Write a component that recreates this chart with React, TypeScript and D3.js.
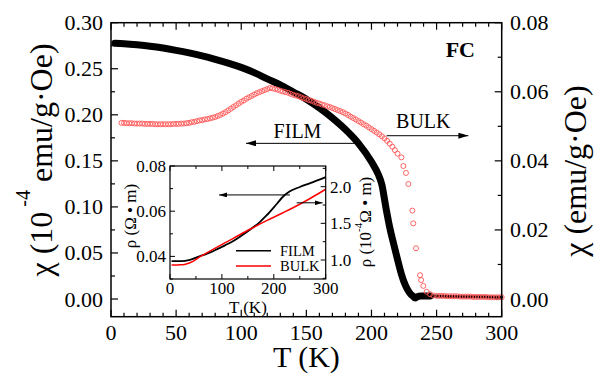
import React from "react";
import * as d3 from "d3";

// ---------- data ----------
// FILM (main, left axis): chi in 10^-4 emu/g·Oe
const filmT = [3, 10, 20, 30, 40, 50, 60, 70, 80, 90, 100, 110, 120, 130, 140, 150, 160, 170, 180, 190, 200, 205, 208, 211, 214, 217, 220, 223, 226, 228, 230, 232, 233.5, 235, 238, 245];
const filmChi = [0.2778, 0.2772, 0.276, 0.2745, 0.2725, 0.27, 0.2672, 0.264, 0.2603, 0.2562, 0.2515, 0.2458, 0.239, 0.2325, 0.2248, 0.217, 0.2075, 0.1965, 0.184, 0.169, 0.149, 0.136, 0.124, 0.1, 0.078, 0.06, 0.043, 0.027, 0.015, 0.0095, 0.0055, 0.003, 0.001, 0.0025, 0.0032, 0.0032];
const filmTailT = [245, 260, 280, 300];
const filmTailChi = [0.0032, 0.0028, 0.0024, 0.002];

// BULK (main, right axis): chi in emu/g·Oe
const bulkT = [8, 10, 12, 14, 16, 18, 20, 22, 24, 26, 28, 30, 32, 34, 36, 38, 40, 42, 44, 46, 48, 50, 52, 54, 56, 58, 60, 62, 64, 66, 68, 70, 72, 74, 76, 78, 80, 82, 84, 86, 88, 90, 92, 94, 96, 98, 100, 102, 104, 106, 108, 110, 112, 114, 116, 118, 120, 122, 124, 126, 128, 130, 132, 134, 136, 138, 140, 142, 144, 146, 148, 150, 152, 154, 156, 158, 160, 162, 164, 166, 168, 170, 172, 174, 176, 178, 180, 182, 184, 186, 188, 190, 192, 194, 196, 198, 200, 202, 204, 206, 208, 210, 212, 214, 216, 218, 220, 223, 224.5, 226.5, 228.3, 231.4, 232.1, 234.2, 237.3, 238.1, 239.8, 242.4, 245, 247.5, 250, 252, 254, 256, 258, 260, 262, 264, 266, 268, 270, 272, 274, 276, 278, 280, 282, 284, 286, 288, 290, 292, 294, 296, 298, 300];
const bulkChi = [0.051, 0.051, 0.0509, 0.0509, 0.0509, 0.0508, 0.0508, 0.0508, 0.0508, 0.0507, 0.0507, 0.0507, 0.0507, 0.0506, 0.0506, 0.0506, 0.0506, 0.0506, 0.0506, 0.0506, 0.0507, 0.0507, 0.0507, 0.0508, 0.0508, 0.0509, 0.051, 0.0512, 0.0513, 0.0515, 0.0517, 0.0518, 0.052, 0.0521, 0.0523, 0.0525, 0.0527, 0.053, 0.0533, 0.0537, 0.0541, 0.0546, 0.0551, 0.0556, 0.0561, 0.0566, 0.0571, 0.0575, 0.058, 0.0584, 0.0588, 0.0592, 0.0596, 0.0599, 0.0602, 0.0605, 0.0608, 0.0611, 0.061, 0.0608, 0.0606, 0.0603, 0.0601, 0.0599, 0.0597, 0.0594, 0.0591, 0.0589, 0.0587, 0.0584, 0.0581, 0.0579, 0.0576, 0.0574, 0.0571, 0.0568, 0.0566, 0.0563, 0.0561, 0.0558, 0.0556, 0.0553, 0.055, 0.0547, 0.0544, 0.0541, 0.0537, 0.0533, 0.0528, 0.0524, 0.052, 0.0515, 0.0511, 0.0506, 0.0502, 0.0497, 0.0492, 0.0487, 0.0482, 0.0477, 0.0471, 0.0465, 0.0458, 0.045, 0.0441, 0.0431, 0.0421, 0.041, 0.0385, 0.0365, 0.0333, 0.0256, 0.0219, 0.0147, 0.0069, 0.0055, 0.0038, 0.0021, 0.0014, 0.001, 0.0009, 0.0009, 0.0009, 0.0009, 0.0008, 0.0008, 0.0008, 0.0008, 0.0008, 0.0007, 0.0007, 0.0007, 0.0007, 0.0007, 0.0006, 0.0006, 0.0006, 0.0006, 0.0006, 0.0006, 0.0005, 0.0005, 0.0005, 0.0005, 0.0005, 0.0005];

// Inset: resistivity
const insetFilmT = [3, 10, 22, 38.5, 58, 75, 90, 106, 122, 138, 154, 173, 186, 206, 218, 231, 250, 270, 300];
const insetFilmRho = [0.0379, 0.0379, 0.0379, 0.0385, 0.0401, 0.0415, 0.0431, 0.0449, 0.0468, 0.0492, 0.0518, 0.0552, 0.0581, 0.0633, 0.0665, 0.0688, 0.0707, 0.0724, 0.0751];
const insetBulkT = [3, 10, 17, 28, 38.5, 58, 90, 122, 154, 186, 218, 250, 300];
const insetBulkRho = [0.932, 0.932, 0.934, 0.94, 0.962, 1.045, 1.173, 1.296, 1.419, 1.536, 1.645, 1.76, 1.965];

// tick labels
const xTicks = [0, 50, 100, 150, 200, 250, 300];
const yLTicks = [0, 0.05, 0.1, 0.15, 0.2, 0.25, 0.3];
const yRTicks = [0, 0.02, 0.04, 0.06, 0.08];
const ixTicks = [0, 100, 200, 300];
const iyLTicks = [0.04, 0.06, 0.08];
const iyRTicks = [1.0, 1.5, 2.0];

const FONT = "Liberation Serif, Times New Roman, Times, DejaVu Serif, serif";

export default function App() {
  // main scales
  const x = d3.scaleLinear().domain([0, 300]).range([111, 501.7]);
  const yL = d3.scaleLinear().domain([-0.0192, 0.3]).range([316.7, 22.7]);
  const yR = d3.scaleLinear().domain([-0.00512, 0.08]).range([316.7, 22.7]);
  // inset scales
  const ix = d3.scaleLinear().domain([0, 300]).range([170, 325.7]);
  const iyL = d3.scaleLinear().domain([0.03, 0.08]).range([279, 166]);
  const iyR = d3.scaleLinear().domain([0.741, 2.282]).range([279, 166]);

  const [x0, x1] = x.range();
  const [yb, yt] = yL.range();
  const [ix0, ix1] = ix.range();
  const [iyb, iyt] = iyL.range();

  const filmPts = filmT.map((t, i) => [t, filmChi[i]] as [number, number]);
  const filmTail = filmTailT.map((t, i) => [t, filmTailChi[i]] as [number, number]);
  const lineL = d3.line<[number, number]>().x(d => x(d[0])).y(d => yL(d[1])).curve(d3.curveMonotoneX);

  const iFilm = insetFilmT.map((t, i) => [t, insetFilmRho[i]] as [number, number]);
  const iBulk = insetBulkT.map((t, i) => [t, insetBulkRho[i]] as [number, number]);
  const iLineL = d3.line<[number, number]>().x(d => ix(d[0])).y(d => iyL(d[1])).curve(d3.curveMonotoneX);
  const iLineR = d3.line<[number, number]>().x(d => ix(d[0])).y(d => iyR(d[1])).curve(d3.curveMonotoneX);

  const xMinor = d3.range(0, 301, 10);
  const yLMinor = d3.range(0, 0.301, 0.025);
  const yRMinor = d3.range(0, 0.0801, 0.01);
  const ixMinor = d3.range(0, 301, 50);
  const iyLMinor = d3.range(0.03, 0.0801, 0.01);
  const iyRMinor = d3.range(0.75, 2.26, 0.25);

  const tk = { stroke: "#000", strokeWidth: 1.2 };
  const itk = { stroke: "#000", strokeWidth: 1 };

  return (
    <svg width={597} height={375} style={{ position: "absolute", left: 0, top: 0, background: "#fff", fontFamily: FONT }}>
      <defs>
        <marker id="ah" viewBox="0 0 10 6" refX="10" refY="3" markerWidth="10" markerHeight="6" markerUnits="userSpaceOnUse" orient="auto">
          <path d="M0,0 L10,3 L0,6 Z" fill="#000" />
        </marker>
        <marker id="ahs" viewBox="0 0 8 5" refX="8" refY="2.5" markerWidth="8" markerHeight="5" markerUnits="userSpaceOnUse" orient="auto">
          <path d="M0,0 L8,2.5 L0,5 Z" fill="#000" />
        </marker>
      </defs>
      <rect x={0} y={0} width={597} height={375} fill="#fff" />

      <g style={{ fontFamily: FONT }}>
        {/* main ticks */}
        {xMinor.map(t => {
          const major = t % 50 === 0;
          const l = major ? 7 : 4;
          return (
            <g key={"xt" + t}>
              <line x1={x(t)} x2={x(t)} y1={yb} y2={yb - l} {...tk} />
              <line x1={x(t)} x2={x(t)} y1={yt} y2={yt + l} {...tk} />
            </g>
          );
        })}
        {yLMinor.map((v, i) => (
          <line key={"yl" + i} x1={x0} x2={x0 + (i % 2 === 0 ? 7 : 4)} y1={yL(v)} y2={yL(v)} {...tk} />
        ))}
        {yRMinor.map((v, i) => (
          <line key={"yr" + i} x1={x1} x2={x1 - (i % 2 === 0 ? 7 : 4)} y1={yR(v)} y2={yR(v)} {...tk} />
        ))}

        {/* main tick labels */}
        {xTicks.map(t => (
          <text key={"xl" + t} x={x(t)} y={340} fontSize={22} textAnchor="middle">{t}</text>
        ))}
        {yLTicks.map(v => (
          <text key={"yll" + v} x={103} y={yL(v) + 7.5} fontSize={22} textAnchor="end">{v.toFixed(2)}</text>
        ))}
        {yRTicks.map(v => (
          <text key={"yrl" + v} x={510} y={yR(v) + 7.5} fontSize={22} textAnchor="start">{v.toFixed(2)}</text>
        ))}

        {/* axis titles */}
        <text x={(x0 + x1) / 2} y={367} fontSize={30} textAnchor="middle">T (K)</text>
        <text transform="translate(52,160) rotate(-90)" fontSize={32} textAnchor="middle">
          χ (10<tspan fontSize={20} dy={-22}> -4</tspan><tspan dy={22}> emu/g·Oe)</tspan>
        </text>
        <text transform="translate(586,171) rotate(-90)" fontSize={32} textAnchor="middle">χ (emu/g·Oe)</text>

        {/* main data */}
        <path d={lineL(filmPts) || ""} fill="none" stroke="#000" strokeWidth={7} strokeLinecap="round" strokeLinejoin="round" />
        <path d={lineL(filmTail) || ""} fill="none" stroke="#000" strokeWidth={3} strokeLinecap="round" />
        {bulkT.map((t, i) => (
          <circle key={"b" + i} cx={x(t)} cy={yR(bulkChi[i])} r={2.5} fill="none" stroke="#ff5555" strokeWidth={0.9} />
        ))}

        {/* main annotations */}
        <text x={x(279.5)} y={yL(0.263)} fontSize={22} fontWeight="bold" textAnchor="end">FC</text>
        <text x={x(143.2)} y={yL(0.1745)} fontSize={20} textAnchor="middle">FILM</text>
        <line x1={x(187.4)} x2={x(103.7)} y1={yL(0.169)} y2={yL(0.169)} stroke="#000" strokeWidth={1} markerEnd="url(#ah)" />
        <text x={x(239.8)} y={yL(0.1853)} fontSize={20} textAnchor="middle">BULK</text>
        <line x1={x(211.7)} x2={x(274.4)} y1={yL(0.1773)} y2={yL(0.1773)} stroke="#000" strokeWidth={1} markerEnd="url(#ah)" />

        {/* frame */}
        <rect x={x0} y={yt} width={x1 - x0} height={yb - yt} fill="none" stroke="#000" strokeWidth={1.5} />

        {/* inset */}
        {ixMinor.map(t => {
          const l = t % 100 === 0 ? 5 : 3;
          return (
            <g key={"ixt" + t}>
              <line x1={ix(t)} x2={ix(t)} y1={iyb} y2={iyb - l} {...itk} />
              <line x1={ix(t)} x2={ix(t)} y1={iyt} y2={iyt + l} {...itk} />
            </g>
          );
        })}
        {iyLMinor.map((v, i) => (
          <line key={"iyl" + i} x1={ix0} x2={ix0 + (i % 2 === 1 ? 5 : 3)} y1={iyL(v)} y2={iyL(v)} {...itk} />
        ))}
        {iyRMinor.map((v, i) => (
          <line key={"iyr" + i} x1={ix1} x2={ix1 - (i % 2 === 1 ? 5 : 3)} y1={iyR(v)} y2={iyR(v)} {...itk} />
        ))}
        {ixTicks.map(t => (
          <text key={"ixl" + t} x={ix(t)} y={294} fontSize={17} textAnchor="middle">{t}</text>
        ))}
        {iyLTicks.map(v => (
          <text key={"iyll" + v} x={166} y={iyL(v) + 6} fontSize={17} textAnchor="end">{v.toFixed(2)}</text>
        ))}
        {iyRTicks.map(v => (
          <text key={"iyrl" + v} x={330} y={iyR(v) + 6} fontSize={17} textAnchor="start">{v.toFixed(1)}</text>
        ))}
        <text x={(ix0 + ix1) / 2} y={313} fontSize={17} textAnchor="middle">T (K)</text>
        <text transform="translate(136,216) rotate(-90)" fontSize={17} textAnchor="middle">ρ (Ω • m)</text>
        <text transform="translate(371,222) rotate(-90)" fontSize={17} textAnchor="middle">
          ρ (10<tspan fontSize={11} dy={-9}>-4</tspan><tspan dy={9}>Ω • m)</tspan>
        </text>

        <path d={iLineL(iFilm) || ""} fill="none" stroke="#000" strokeWidth={1.8} />
        <path d={iLineR(iBulk) || ""} fill="none" stroke="#ff0000" strokeWidth={1.5} />

        <line x1={ix(231.2)} x2={ix(94.5)} y1={iyL(0.0672)} y2={iyL(0.0672)} stroke="#000" strokeWidth={1} markerEnd="url(#ahs)" />
        <line x1={ix(244)} x2={ix(294)} y1={iyR(1.78)} y2={iyR(1.78)} stroke="#000" strokeWidth={1} markerEnd="url(#ahs)" />

        {/* legend */}
        <line x1={236} x2={271} y1={250.7} y2={250.7} stroke="#000" strokeWidth={1.5} />
        <text x={280} y={256} fontSize={14.5}>FILM</text>
        <line x1={236} x2={271} y1={266} y2={266} stroke="#ff0000" strokeWidth={1.5} />
        <text x={280} y={271.3} fontSize={14.5}>BULK</text>

        <rect x={ix0} y={iyt} width={ix1 - ix0} height={iyb - iyt} fill="none" stroke="#000" strokeWidth={1.2} />
      </g>
    </svg>
  );
}
